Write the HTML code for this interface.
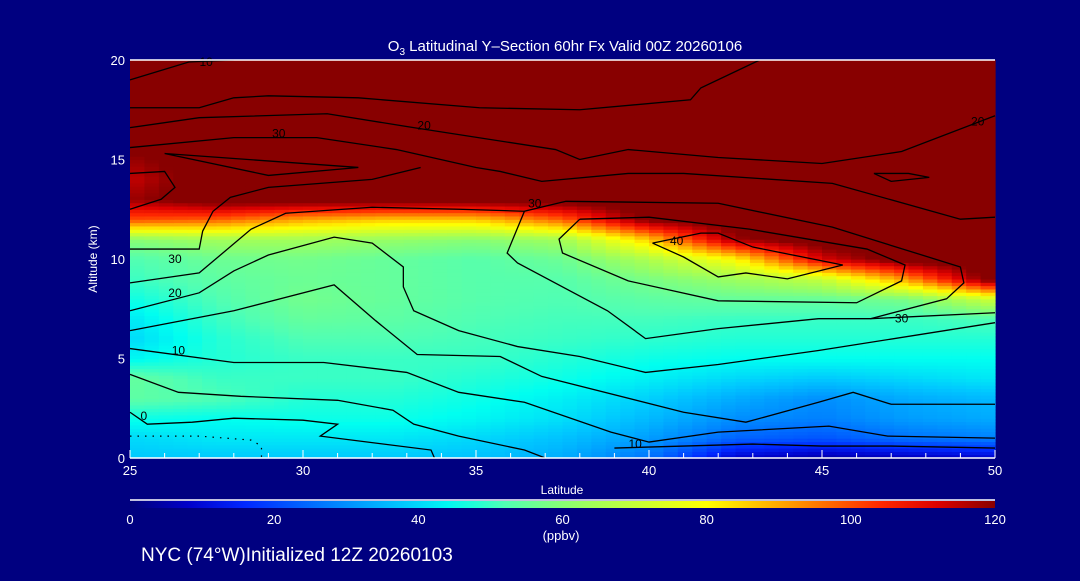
<!DOCTYPE html>
<html><head><meta charset="utf-8">
<style>
body{margin:0;background:#000080;width:1080px;height:576px;overflow:hidden;font-family:"Liberation Sans",sans-serif;}
svg text{fill:#fff;font-family:"Liberation Sans",sans-serif;}
svg text.cl{fill:#000;}
</style></head>
<body>
<svg id="chart" width="1080" height="576">
<rect width="1080" height="576" fill="#000080"/>
<g id="cells"></g>
<g id="contours"></g>
<g id="axes"></g>
<text x="565" y="51" text-anchor="middle" font-size="15">O<tspan font-size="10" dy="4">3</tspan><tspan dy="-4"> Latitudinal Y–Section 60hr  Fx Valid 00Z 20260106</tspan></text>
<text x="562" y="494" text-anchor="middle" font-size="12">Latitude</text>
<text x="97" y="259" text-anchor="middle" font-size="12" transform="rotate(-90 97 259)">Altitude (km)</text>
<defs><linearGradient id="cbg" x1="0" x2="1" y1="0" y2="0"></linearGradient></defs>
<line x1="130" y1="500" x2="995" y2="500" stroke="#fff" stroke-width="1.5"/>
<rect x="130" y="501" width="865" height="7" fill="url(#cbg)"/>
<g id="cbticks"></g>
<text x="561" y="540" text-anchor="middle" font-size="13">(ppbv)</text>
<text x="141" y="561" font-size="19">NYC (74°W)Initialized 12Z 20260103</text>
</svg>
<script>
const lats=[25,27.5,30,32.5,35,37.5,40,42.5,45,47.5,50];
const alts=[0,1,2,3,4,5,6,7,8,9,10,11,12,13,14,15,16,17,18,19,20];
const o3=[
[38,38,38,38,37,34,26,8,4,6,8],
[40,42,42,42,40,37,32,24,22,26,28],
[46,45,46,46,44,41,36,30,28,32,34],
[54,52,48,48,46,43,39,34,30,34,36],
[55,50,50,50,48,46,43,40,38,40,42],
[44,48,50,50,50,48,46,45,45,45,45],
[40,48,52,52,51,50,49,48,48,48,48],
[42,50,55,54,52,51,51,50,50,50,52],
[46,52,57,55,53,52,54,55,55,58,72],
[50,54,56,55,53,53,58,63,70,92,125],
[52,56,57,55,53,56,66,80,112,125,125],
[60,64,64,62,60,64,86,118,125,125,125],
[100,98,90,86,86,98,122,125,125,125,125],
[118,125,125,125,125,125,125,125,125,125,125],
[114,125,125,125,125,125,125,125,125,125,125],
[118,125,125,125,125,125,125,125,125,125,125],
[125,125,125,125,125,125,125,125,125,125,125],
[125,125,125,125,125,125,125,125,125,125,125],
[125,125,125,125,125,125,125,125,125,125,125],
[125,125,125,125,125,125,125,125,125,125,125],
[125,125,125,125,125,125,125,125,125,125,125]];
const cbLabels=[0,20,40,60,80,100,120];
const xTicks=[25,30,35,40,45,50];
const yTicks=[0,5,10,15,20];
const contourLats=[
[25,26.7,28],
[25,27,28,29,31.6,35.1,38,41.2,41.5,43.2],
[25,27,30.7,33.2,37.3,38,39.4,42,45,47.3,50],
[25,28,30.4,32.7,35,35.7,36.9,39.4,41,45.3,49,50],
[26,29,31.6,26],
[25,26,26.3,25.9,25],
[25,27,27.1,27.4,27.9,29,32,33.4],
[44.9,46.4,48.6,49.1,49,45.3,42,37.6,36.4,35.9,36.2,38.8,39.9,42,44.9],
[46.4,50],
[38,37.4,37.5,39.4,42,46,47.3,47.4,46.3,42.9,40,38],
[40.1,41.5,42,43,45.6,44,42.8,42,41,40.1],
[46.5,47,48.1,47.5,46.5],
[25,27,28.5,29.5,32,34.5,36.4],
[25,27,28,29,30.9,32,32.9,32.9,33.2,34.5,36.2,38,39.9,42,44.9,50],
[25,28,30.9,32.1,33.3,35.7,36.9,41,42.8,44.9,45.9,47,50],
[25,28,30.6,33,34.5,36.4,38.9,40,42,45.2,46.9,50],
[25,26.4,28.2,31,32.6,33.2,34.5,36.4,37],
[25,25.5,26.8,28,30,31,30.5,33.7,33.8],
[39,41,43,45,47,50]];
const contourAlts=[
[19,19.9,20],
[17.6,17.6,18.1,18.2,18.1,17.6,17.5,18,18.6,20],
[16.6,17.1,17.3,16.6,15.5,15,15.5,15.1,14.8,15.4,17.2],
[15.6,16.1,16.1,15.5,14.6,14.4,13.9,14.3,14.3,13.8,12,12.1],
[15.3,14.2,14.6,15.3],
[14.3,14.4,13.6,13,12.5],
[10.5,10.5,11.4,12.4,13.1,13.6,14,14.6],
[7,7,8,8.8,9.6,11.6,12.8,12.9,12.4,10.3,9.8,7.4,6,6.5,7],
[7,7.3],
[12,11,10.3,8.9,7.9,7.8,8.9,9.7,10.5,11.5,12.1,12],
[10.8,11.3,11.3,10.6,9.7,9,9.3,9.1,10.1,10.8],
[14.3,13.9,14.1,14.3,14.3],
[8.8,9.3,11.5,12.3,12.6,12.5,12.4],
[7.4,8.3,9.4,10.2,11.1,10.8,9.6,8.6,7.4,6.4,5.6,5.1,4.3,4.7,5.4,6.8],
[6.4,7.4,8.7,6.9,5.2,5.1,4.1,2.3,1.8,2.8,3.3,2.7,2.7],
[5.5,4.8,4.8,4.3,3.3,2.8,1.3,0.8,1.3,1.6,1.1,1.0],
[4.2,3.3,3.1,2.9,2.4,1.7,1.1,0.4,0],
[2.3,1.7,1.8,2.0,1.9,1.7,1.1,0.4,0],
[0.5,0.6,0.7,0.6,0.6,0.5]];
const labelText=['10','30','20','30','30','20','10','10','0','40','30','20'];
const labelLat=[27.2,29.3,33.5,36.7,26.3,26.3,26.4,39.6,25.4,40.8,47.3,49.5];
const labelAlt=[19.9,16.3,16.7,12.8,10.0,8.3,5.4,0.7,2.1,10.9,7.0,16.9];
const X=l=>130+(l-25)/25*865, Y=a=>458-a/20*398;
const stops=[[0,[0,0,120]],[8,[0,0,200]],[16,[0,40,255]],[28,[0,128,255]],[38,[0,200,255]],[45,[0,255,240]],[52,[80,255,180]],[62,[150,255,100]],[80,[255,255,0]],[92,[255,150,0]],[104,[255,40,0]],[112,[220,0,0]],[120,[136,0,0]]];
function col(v){v=Math.max(0,Math.min(120,v));for(let i=1;i<stops.length;i++){if(v<=stops[i][0]){const a=stops[i-1],b=stops[i],t=(v-a[0])/(b[0]-a[0]);return 'rgb('+a[1].map((c,k)=>Math.round(c+(b[1][k]-c)*t)).join(',')+')';}}return 'rgb(136,0,0)';}
const NS='http://www.w3.org/2000/svg';
function mk(t,at,p){const e=document.createElementNS(NS,t);for(const k in at)e.setAttribute(k,at[k]);p.appendChild(e);return e;}
const cells=document.getElementById('cells');
const sub=6;
for(let j=0;j<alts.length-1;j++)for(let i=0;i<lats.length-1;i++)for(let sj=0;sj<sub;sj++)for(let si=0;si<sub;si++){
 const u=(si+.5)/sub,w=(sj+.5)/sub;
 const v=o3[j][i]*(1-u)*(1-w)+o3[j][i+1]*u*(1-w)+o3[j+1][i]*(1-u)*w+o3[j+1][i+1]*u*w;
 const l0=lats[i]+(lats[i+1]-lats[i])*si/sub,l1=lats[i]+(lats[i+1]-lats[i])*(si+1)/sub;
 const a0=alts[j]+(alts[j+1]-alts[j])*sj/sub,a1=alts[j]+(alts[j+1]-alts[j])*(sj+1)/sub;
 const r=mk('rect',{x:X(l0),y:Y(a1),width:X(l1)-X(l0)+0.6,height:Y(a0)-Y(a1)+0.6,fill:col(v)},cells);
 
 
}
const cg=document.getElementById('contours');
contourLats.forEach((ls,k)=>{
 const p=mk('polyline',{points:ls.map((l,n)=>X(l)+','+Y(contourAlts[k][n])).join(' '),fill:'none',stroke:'#000','stroke-width':1.3},cg);
 
 
});
const dot=mk('polyline',{points:[[25,1.1],[27,1.1],[28.5,0.9],[28.8,0.6],[28.8,0]].map(p=>X(p[0])+','+Y(p[1])).join(' '),fill:'none',stroke:'#000','stroke-width':1.2,'stroke-dasharray':'1.5 6'},cg);


labelText.forEach((s,k)=>{
 const t=mk('text',{x:X(labelLat[k]),y:Y(labelAlt[k])+4,'text-anchor':'middle','font-size':12,class:'cl'},cg);
 t.textContent=s;
 
 
});
const ax=document.getElementById('axes');
mk('line',{x1:130,y1:60,x2:995,y2:60,stroke:'#fff','stroke-width':1.5},ax);
mk('line',{x1:130,y1:458,x2:995,y2:458,stroke:'#fff','stroke-width':1.5},ax);
for(let l=25;l<=50;l++){mk('line',{x1:X(l),y1:458,x2:X(l),y2:l%5?453:450,stroke:'#fff'},ax);}
xTicks.forEach(l=>{const t=mk('text',{x:X(l),y:475,'text-anchor':'middle','font-size':13},ax);t.textContent=l;
 
 });
yTicks.forEach(a=>{const t=mk('text',{x:125,y:Y(a)+5,'text-anchor':'end','font-size':13},ax);t.textContent=a;
 
 });
const g=document.querySelector('#cbg');
for(let v=0;v<=120;v+=4){mk('stop',{offset:v/120,'stop-color':col(v)},g);}
const cb=document.getElementById('cbticks');
cbLabels.forEach(v=>{const t=mk('text',{x:130+v/120*865,y:524,'text-anchor':'middle','font-size':13},cb);t.textContent=v;
 
 });
</script>
</body></html>
